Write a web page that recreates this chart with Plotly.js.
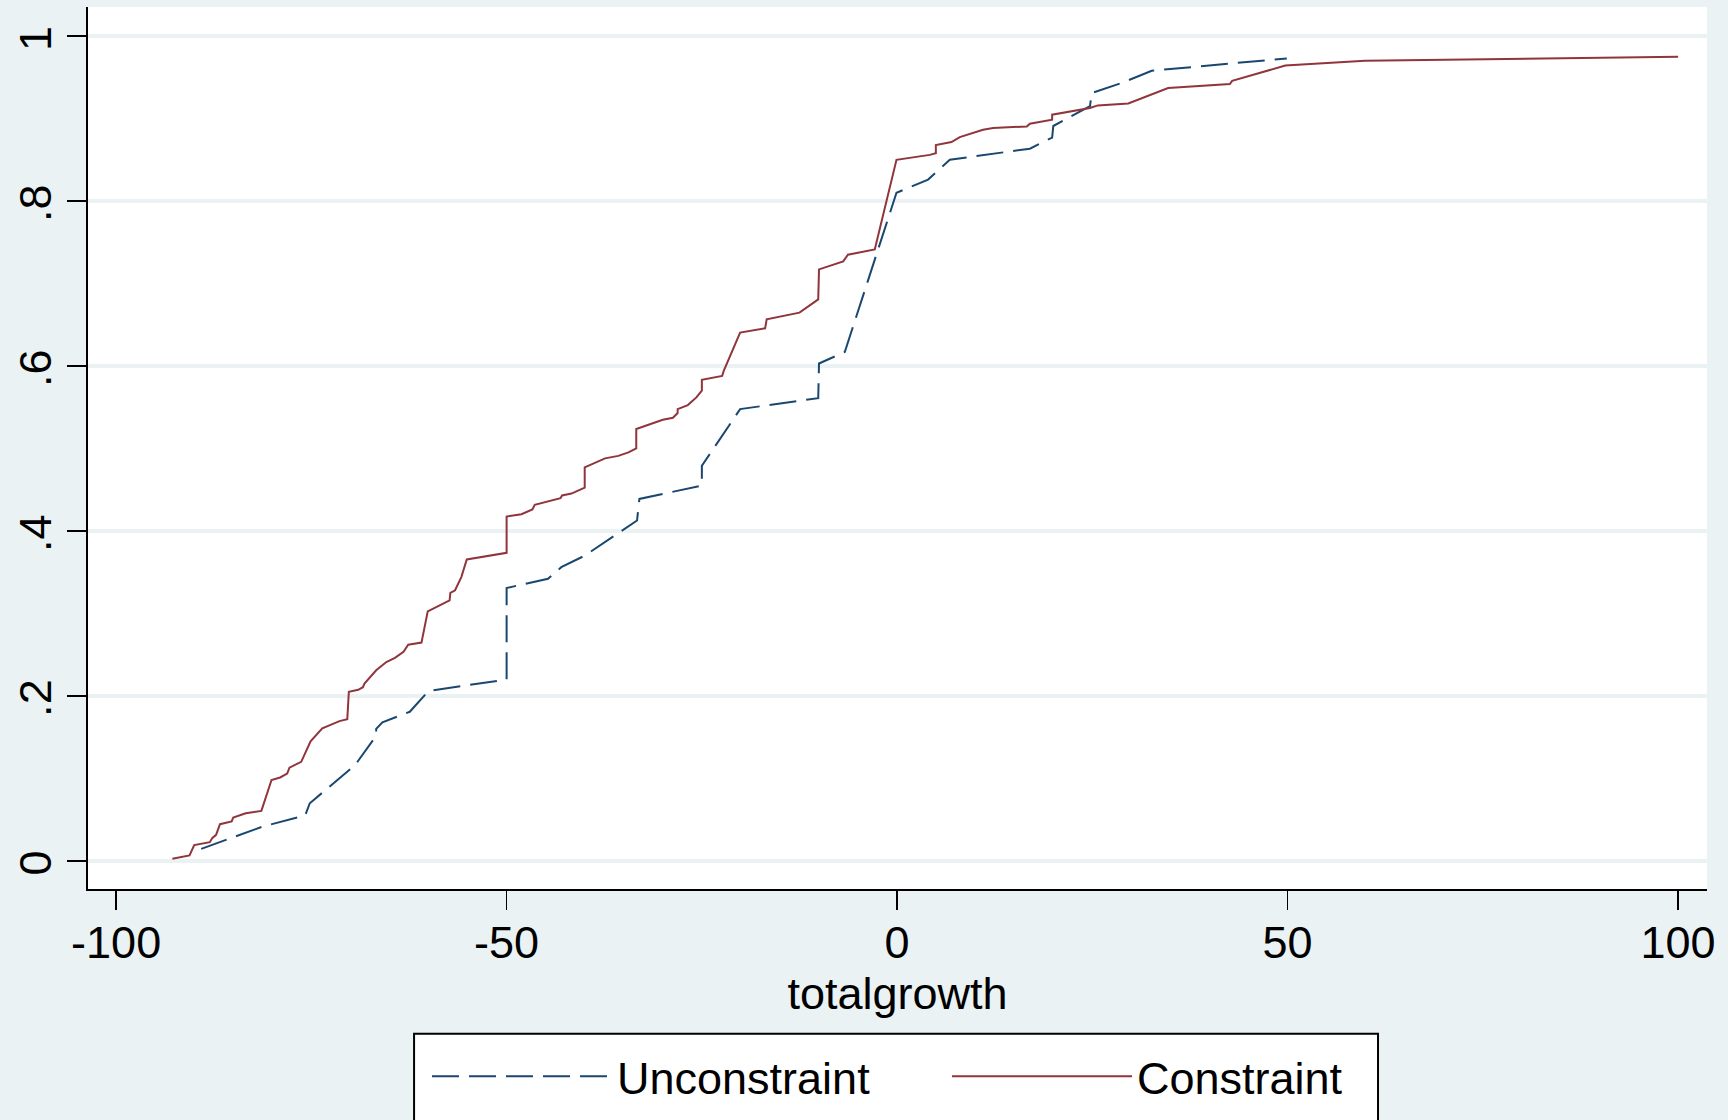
<!DOCTYPE html>
<html>
<head>
<meta charset="utf-8">
<script src="https://cdn.plot.ly/plotly-3.0.1.min.js"></script>
<style>html,body{margin:0;padding:0;background:#EAF2F3;}#chart{width:1728px;height:1120px;}</style>
</head>
<body>
<div id="chart"></div>
<script>
// Unconstraint group: empirical cumulative distribution of totalgrowth
var uncX = [-89.1, -81.2, -75.8, -75.2, -69.4, -66.7, -66.7, -65.9, -62.4, -60.0, -50.0, -50.0, -44.7, -43.0, -40.0, -33.3, -33.0, -25.0, -25.0, -20.1, -10.1, -10.0, -6.7, -0.08, 3.97, 6.75, 17.0, 19.85, 20.0, 24.7, 24.9, 28.7, 32.6, 49.9];
var uncY = [0.0145, 0.0416, 0.055, 0.0698, 0.116, 0.1517, 0.160, 0.1678, 0.1807, 0.206, 0.2198, 0.3308, 0.342, 0.356, 0.370, 0.4126, 0.4388, 0.455, 0.479, 0.5477, 0.561, 0.603, 0.617, 0.810, 0.826, 0.850, 0.8635, 0.877, 0.891, 0.915, 0.931, 0.943, 0.958, 0.973];

// Constraint group
var conX = [-92.8, -90.6, -90.0, -88.0, -87.7, -87.2, -86.7, -85.2, -85.0, -83.4, -81.4, -80.1, -79.0, -78.1, -77.8, -76.3, -75.1, -73.6, -71.4, -70.4, -70.2, -69.0, -68.4, -68.2, -66.7, -65.4, -64.3, -63.2, -62.6, -60.9, -60.1, -57.3, -57.2, -56.6, -55.8, -55.1, -50.0, -50.0, -48.1, -46.7, -46.4, -44.5, -43.1, -42.9, -41.7, -40.0, -40.0, -37.4, -35.7, -34.4, -33.4, -33.4, -30.0, -28.7, -28.1, -28.1, -26.8, -25.7, -25.0, -25.0, -22.4, -22.2, -20.1, -16.9, -16.7, -12.5, -10.1, -10.0, -6.9, -6.3, -2.86, -0.08, 4.19, 4.96, 4.96, 6.96, 8.03, 11.0, 12.3, 16.6, 17.0, 19.85, 19.85, 24.7, 25.7, 29.6, 34.7, 42.6, 42.9, 49.7, 59.9, 100.0];
var conY = [0.0024, 0.0065, 0.019, 0.0226, 0.0275, 0.0315, 0.0444, 0.0477, 0.0525, 0.0577, 0.0605, 0.098, 0.101, 0.1057, 0.113, 0.120, 0.145, 0.1606, 0.1694, 0.1718, 0.205, 0.2074, 0.2105, 0.215, 0.231, 0.241, 0.246, 0.2533, 0.262, 0.2646, 0.3025, 0.3158, 0.325, 0.328, 0.344, 0.3654, 0.3735, 0.4174, 0.4203, 0.426, 0.4316, 0.4368, 0.4397, 0.443, 0.4453, 0.4525, 0.477, 0.488, 0.491, 0.4953, 0.5002, 0.5235, 0.5348, 0.5372, 0.543, 0.5477, 0.5526, 0.5619, 0.570, 0.5832, 0.588, 0.594, 0.6405, 0.6457, 0.6566, 0.6647, 0.6808, 0.7171, 0.7268, 0.7349, 0.7413, 0.850, 0.856, 0.858, 0.868, 0.8716, 0.8776, 0.8865, 0.8885, 0.8905, 0.8938, 0.8986, 0.9047, 0.9128, 0.916, 0.9184, 0.937, 0.9418, 0.9458, 0.9643, 0.970, 0.975];

var seriesNames = ['Unconstraint', 'Constraint'];
var xTickVals = [-100, -50, 0, 50, 100];
var xTickText = ['-100', '-50', '0', '50', '100'];
var yTickVals = [0, 0.2, 0.4, 0.6, 0.8, 1];
var yTickText = ['0', '.2', '.4', '.6', '.8', '1'];
var xTitle = 'totalgrowth';

var FONT = 'Liberation Sans, Arial, Helvetica, sans-serif';
var traces = [
  {x: uncX, y: uncY, name: seriesNames[0], type: 'scatter', mode: 'lines',
   line: {color: '#1A476F', width: 2, dash: '27px,10px'}},
  {x: conX, y: conY, name: seriesNames[1], type: 'scatter', mode: 'lines',
   line: {color: '#90353B', width: 2}}
];
var layout = {
  width: 1728, height: 1120,
  margin: {l: 88, r: 21, t: 7, b: 229},
  paper_bgcolor: '#EAF2F3', plot_bgcolor: '#FFFFFF',
  font: {family: FONT, color: '#000000', size: 45},
  showlegend: true,
  xaxis: {
    range: [-103.6, 103.7], tickvals: xTickVals, ticktext: xTickText,
    ticks: 'outside', ticklen: 19, tickwidth: 1.5, tickcolor: '#000',
    showline: true, linecolor: '#000', linewidth: 2, showgrid: false, zeroline: false,
    tickfont: {size: 45, family: FONT}, ticklabelstandoff: -6,
    title: {text: xTitle, font: {size: 45, family: FONT}, standoff: 0},
    automargin: false
  },
  yaxis: {
    range: [-0.0342, 1.0353], tickvals: yTickVals, ticktext: yTickText,
    ticks: 'outside', ticklen: 19, tickwidth: 1.5, tickcolor: '#000', tickangle: -90,
    showline: true, linecolor: '#000', linewidth: 2,
    showgrid: true, gridcolor: '#EAF2F3', gridwidth: 4, zeroline: false,
    tickfont: {size: 45, family: FONT}, ticklabelstandoff: -2, ticklabelshift: 9,
    automargin: false
  },
  shapes: [{
    type: 'rect', xref: 'paper', yref: 'paper',
    x0: 0.2014, x1: 0.7968, y0: -0.2704, y1: -0.1640,
    fillcolor: '#FFFFFF', line: {color: '#000', width: 2}, layer: 'above'
  }],
  legend: {
    orientation: 'h', x: 0.2094, xanchor: 'left', y: -0.1719, yanchor: 'top',
    bgcolor: 'rgba(0,0,0,0)', borderwidth: 0,
    font: {size: 45, family: FONT}, itemwidth: 180, entrywidth: 325, entrywidthmode: 'pixels',
    traceorder: 'normal'
  }
};
Plotly.newPlot('chart', traces, layout, {displayModeBar: false, staticPlot: true});
</script>
</body>
</html>
